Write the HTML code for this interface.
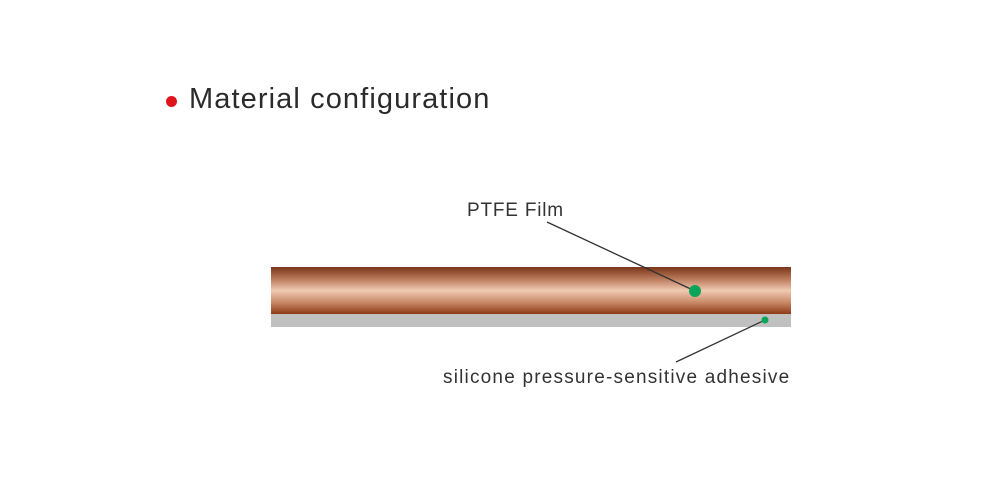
<!DOCTYPE html>
<html><head><style>
body{margin:0;width:1000px;height:500px;background:#fff;position:relative;overflow:hidden;font-family:"Liberation Sans",sans-serif;color:#333}
.t{position:absolute;white-space:nowrap}
</style></head><body>
<div style="position:absolute;left:166px;top:96px;width:11px;height:11px;border-radius:50%;background:#e0141c"></div>
<div class="t" style="left:189px;top:83px;font-size:29px;letter-spacing:1.1px;color:#2b2b2b">Material configuration</div>
<div class="t" style="left:467px;top:200px;font-size:19px;letter-spacing:0.8px">PTFE Film</div>
<div class="t" style="left:443px;top:367px;font-size:19px;letter-spacing:1.2px">silicone pressure-sensitive adhesive</div>
<div style="position:absolute;left:271px;top:267px;width:520px;height:47px;background:linear-gradient(#7a3418 0%,#b8795a 25%,#f0c9b2 50%,#c98a68 75%,#8c3a16 100%)"></div>
<div style="position:absolute;left:271px;top:314px;width:520px;height:13px;background:#c0c0c0"></div>
<svg style="position:absolute;left:0;top:0" width="1000" height="500">
<line x1="547" y1="222" x2="695" y2="291" stroke="#333" stroke-width="1.3"/>
<line x1="765" y1="320" x2="676" y2="362" stroke="#333" stroke-width="1.3"/>
<circle cx="695" cy="291" r="6" fill="#0aa55a"/>
<circle cx="765" cy="320" r="3.5" fill="#0aa55a"/>
</svg>
</body></html>
